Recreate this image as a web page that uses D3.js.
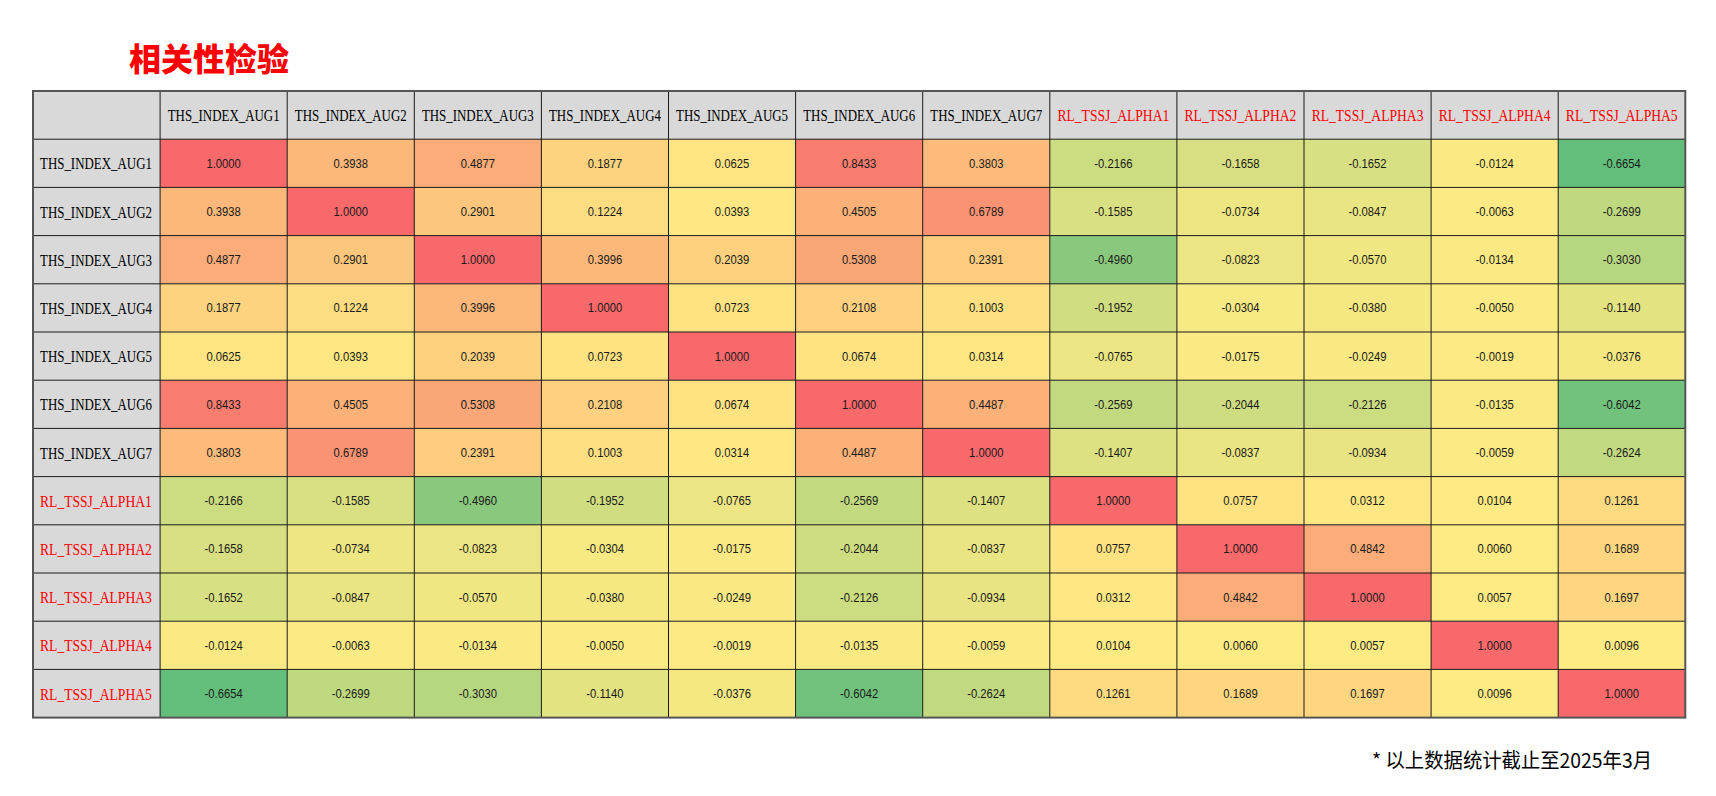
<!DOCTYPE html>
<html><head><meta charset="utf-8">
<script src="https://cdn.jsdelivr.net/npm/d3@7"></script>
<style>html,body{margin:0;padding:0;background:#fff;}svg{display:block;}</style>
</head><body>
<svg id="chart" width="1716" height="796"></svg>
<script>
const titleText = "相关性检验";
const footnote = "* 以上数据统计截止至2025年3月";
const labels = ["THS_INDEX_AUG1","THS_INDEX_AUG2","THS_INDEX_AUG3","THS_INDEX_AUG4","THS_INDEX_AUG5","THS_INDEX_AUG6","THS_INDEX_AUG7","RL_TSSJ_ALPHA1","RL_TSSJ_ALPHA2","RL_TSSJ_ALPHA3","RL_TSSJ_ALPHA4","RL_TSSJ_ALPHA5"];
const rowAUG1 = [1.0000,0.3938,0.4877,0.1877,0.0625,0.8433,0.3803,-0.2166,-0.1658,-0.1652,-0.0124,-0.6654];
const rowAUG2 = [0.3938,1.0000,0.2901,0.1224,0.0393,0.4505,0.6789,-0.1585,-0.0734,-0.0847,-0.0063,-0.2699];
const rowAUG3 = [0.4877,0.2901,1.0000,0.3996,0.2039,0.5308,0.2391,-0.4960,-0.0823,-0.0570,-0.0134,-0.3030];
const rowAUG4 = [0.1877,0.1224,0.3996,1.0000,0.0723,0.2108,0.1003,-0.1952,-0.0304,-0.0380,-0.0050,-0.1140];
const rowAUG5 = [0.0625,0.0393,0.2039,0.0723,1.0000,0.0674,0.0314,-0.0765,-0.0175,-0.0249,-0.0019,-0.0376];
const rowAUG6 = [0.8433,0.4505,0.5308,0.2108,0.0674,1.0000,0.4487,-0.2569,-0.2044,-0.2126,-0.0135,-0.6042];
const rowAUG7 = [0.3803,0.6789,0.2391,0.1003,0.0314,0.4487,1.0000,-0.1407,-0.0837,-0.0934,-0.0059,-0.2624];
const rowALPHA1 = [-0.2166,-0.1585,-0.4960,-0.1952,-0.0765,-0.2569,-0.1407,1.0000,0.0757,0.0312,0.0104,0.1261];
const rowALPHA2 = [-0.1658,-0.0734,-0.0823,-0.0304,-0.0175,-0.2044,-0.0837,0.0757,1.0000,0.4842,0.0060,0.1689];
const rowALPHA3 = [-0.1652,-0.0847,-0.0570,-0.0380,-0.0249,-0.2126,-0.0934,0.0312,0.4842,1.0000,0.0057,0.1697];
const rowALPHA4 = [-0.0124,-0.0063,-0.0134,-0.0050,-0.0019,-0.0135,-0.0059,0.0104,0.0060,0.0057,1.0000,0.0096];
const rowALPHA5 = [-0.6654,-0.2699,-0.3030,-0.1140,-0.0376,-0.6042,-0.2624,0.1261,0.1689,0.1697,0.0096,1.0000];
const matrix = [rowAUG1,rowAUG2,rowAUG3,rowAUG4,rowAUG5,rowAUG6,rowAUG7,rowALPHA1,rowALPHA2,rowALPHA3,rowALPHA4,rowALPHA5];

const svg = d3.select("#chart");
const tLeft = 33, tTop = 91, colW = 127.1, rowH = 48.2;
const cols = ["__head"].concat(labels);
const x = d3.scaleBand().domain(cols).range([tLeft, tLeft + colW * cols.length]);
const y = d3.scaleBand().domain(cols).range([tTop, tTop + rowH * cols.length]);

const all = matrix.flat();
const color = d3.scaleLinear()
  .domain([d3.min(all), d3.median(all), d3.max(all)])
  .range(["#63BE7B", "#FFEB84", "#F8696B"])
  .interpolate(d3.interpolateRgb);

const labelColor = l => l.startsWith("RL_") ? "#FF0000" : "#000000";

// fit a text to a target width by horizontal scaling (keeps bbox honest)
function fitText(sel, tx, ty, target, anchor) {
  const len = sel.node().getComputedTextLength();
  const k = target / len;
  sel.attr("text-anchor", anchor).attr("x", 0).attr("y", 0)
     .attr("transform", `translate(${tx},${ty}) scale(${k},1)`);
}

// title
svg.append("text").attr("x", 129).attr("y", 71)
  .attr("font-family", "'Noto Sans CJK SC'").attr("font-weight", 900)
  .attr("font-size", 32).attr("fill", "#FF0000").text(titleText);

// backgrounds of header row / label column
svg.append("rect").attr("x", x("__head")).attr("y", y("__head"))
  .attr("width", x.bandwidth()).attr("height", y.bandwidth()).attr("fill", "#D9D9D9");
labels.forEach(l => {
  svg.append("rect").attr("x", x(l)).attr("y", y("__head"))
    .attr("width", x.bandwidth()).attr("height", y.bandwidth()).attr("fill", "#D9D9D9");
  svg.append("rect").attr("x", x("__head")).attr("y", y(l))
    .attr("width", x.bandwidth()).attr("height", y.bandwidth()).attr("fill", "#D9D9D9");
});

// cells
matrix.forEach((row, i) => {
  row.forEach((v, j) => {
    const rl = labels[i], cl = labels[j];
    svg.append("rect").attr("x", x(cl)).attr("y", y(rl))
      .attr("width", x.bandwidth()).attr("height", y.bandwidth()).attr("fill", color(v));
    svg.append("text")
      .attr("transform", `translate(${x(cl) + x.bandwidth()/2},${y(rl) + y.bandwidth()/2 + 4.5}) scale(0.9,1)`)
      .attr("text-anchor", "middle").attr("font-family", "'Liberation Sans'").attr("font-size", 12.5)
      .attr("fill", "#1a1a1a").text(v.toFixed(4));
  });
});

// labels
labels.forEach(l => {
  const h = svg.append("text").attr("font-family", "'Liberation Serif'").attr("font-size", 17.5)
    .attr("fill", labelColor(l)).text(l);
  fitText(h, x(l) + x.bandwidth()/2, y("__head") + y.bandwidth()/2 + 6, 112, "middle");
  const r = svg.append("text").attr("font-family", "'Liberation Serif'").attr("font-size", 17.5)
    .attr("fill", labelColor(l)).text(l);
  fitText(r, x("__head") + 7, y(l) + y.bandwidth()/2 + 6, 112, "start");
});

// grid lines
const x0 = x.range()[0], x1 = x.range()[1], y0 = y.range()[0], y1 = y.range()[1];
cols.forEach((c, k) => {
  if (k === 0) return;
  svg.append("line").attr("x1", x(c)).attr("x2", x(c)).attr("y1", y0).attr("y2", y1)
    .attr("stroke", "#1a1a1a").attr("stroke-width", 1);
  svg.append("line").attr("x1", x0).attr("x2", x1).attr("y1", y(c)).attr("y2", y(c))
    .attr("stroke", "#1a1a1a").attr("stroke-width", 1);
});
svg.append("rect").attr("x", x0).attr("y", y0).attr("width", x1 - x0).attr("height", y1 - y0)
  .attr("fill", "none").attr("stroke", "#555").attr("stroke-width", 2);

// footnote
const fn = svg.append("text").attr("font-family", "'Noto Sans CJK SC'").attr("font-size", 20)
  .attr("fill", "#000").text(footnote);
fitText(fn, 1652, 768, 280, "end");
</script>
</body></html>
